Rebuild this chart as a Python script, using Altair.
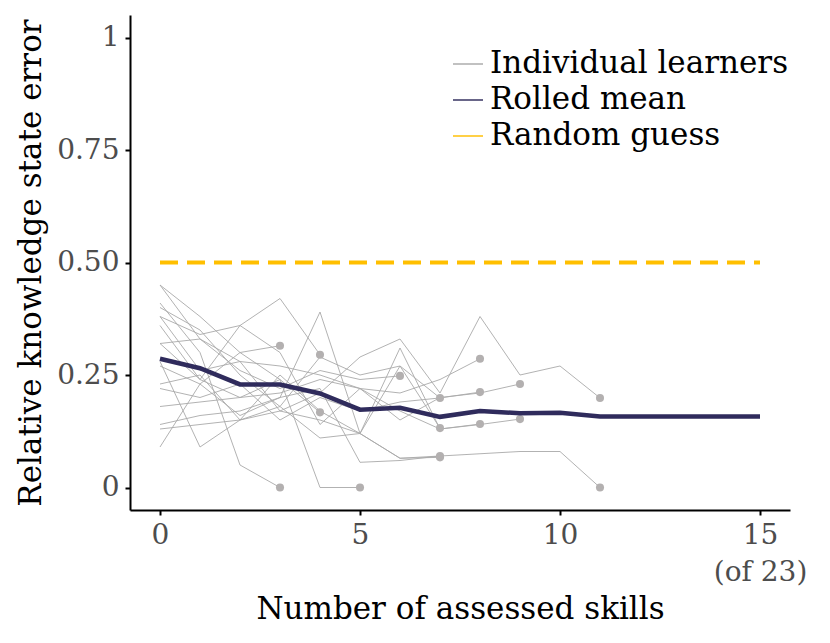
import altair as alt
import pandas as pd

# ---------------- data ----------------
learner_1 = [0.45, 0.38, 0.30, 0.315]
learner_2 = [0.41, 0.30, 0.05, 0.0]
learner_3 = [0.38, 0.34, 0.36, 0.42, 0.295]
learner_4 = [0.27, 0.23, 0.30, 0.24, 0.167]
learner_5 = [0.36, 0.24, 0.20, 0.24, 0.0, 0.0]
learner_6 = [0.32, 0.33, 0.26, 0.22, 0.26, 0.24, 0.248]
learner_7 = [0.45, 0.33, 0.28, 0.17, 0.21, 0.29, 0.33, 0.21, 0.38, 0.25, 0.27, 0.199]
learner_8 = [0.09, 0.23, 0.16, 0.20, 0.39, 0.12, 0.31, 0.13, 0.14, 0.152]
learner_9 = [0.18, 0.19, 0.20, 0.21, 0.24, 0.22, 0.15, 0.20, 0.21, 0.23]
learner_10 = [0.23, 0.25, 0.15, 0.17, 0.15, 0.12, 0.065, 0.067]
learner_11 = [0.13, 0.14, 0.15, 0.18, 0.11, 0.12, 0.065, 0.07]
learner_12 = [0.28, 0.09, 0.15, 0.25, 0.17, 0.12, 0.27, 0.132]
learner_13 = [0.40, 0.35, 0.25, 0.18, 0.29, 0.25, 0.27, 0.199]
learner_14 = [0.38, 0.26, 0.28, 0.27, 0.25, 0.22, 0.21, 0.24, 0.286]
learner_15 = [0.22, 0.20, 0.23, 0.15, 0.20, 0.17, 0.19, 0.199, 0.212]
learner_16 = [0.32, 0.24, 0.36, 0.30, 0.14, 0.22, 0.17, 0.13, 0.141]
learner_17 = [0.14, 0.16, 0.17, 0.20, 0.22, 0.056, 0.06, 0.07, 0.075, 0.08, 0.08, 0.0]

learners = [learner_1, learner_2, learner_3, learner_4, learner_5, learner_6,
            learner_7, learner_8, learner_9, learner_10, learner_11, learner_12,
            learner_13, learner_14, learner_15, learner_16, learner_17]

mean_skills = list(range(16))
rolled_mean = [0.286, 0.265, 0.229, 0.229, 0.209, 0.173, 0.177, 0.157, 0.17,
               0.165, 0.166, 0.158, 0.158, 0.158, 0.158, 0.158]

guess_skills = [0, 15]
guess_values = [0.5, 0.5]

series_names = ["Individual learners", "Rolled mean", "Random guess"]
series_colors = ["#aaaaaa", "#2f2b5c", "#ffbf00"]
x_ticks = [0, 5, 10, 15]
y_ticks = [0, 0.25, 0.5, 0.75, 1]

# ---------------- tables ----------------
rows = []
ends = []
for i, vals in enumerate(learners):
    for s, v in enumerate(vals):
        rows.append({"learner": i, "skills": s, "error": v, "series": series_names[0]})
    ends.append({"learner": i, "skills": len(vals) - 1, "error": vals[-1]})
learner_df = pd.DataFrame(rows)
end_df = pd.DataFrame(ends)
mean_df = pd.DataFrame({"skills": mean_skills, "error": rolled_mean, "series": series_names[1]})
guess_df = pd.DataFrame({"skills": guess_skills, "error": guess_values, "series": series_names[2]})

FONT = "DejaVu Serif"

x_scale = alt.Scale(domain=[-0.75, 15.75], nice=False, zero=False)
y_scale = alt.Scale(domain=[-0.05, 1.05], nice=False, zero=False)
color_scale = alt.Scale(domain=series_names, range=series_colors)

x_enc = alt.X("skills:Q", scale=x_scale,
              axis=alt.Axis(title="Number of assessed skills", values=x_ticks,
                            labelExpr="datum.value == 15 ? ['15', '(of 23)'] : datum.label"))
y_enc = alt.Y("error:Q", scale=y_scale,
              axis=alt.Axis(title="Relative knowledge state error", values=y_ticks,
                            labelExpr="datum.value == 0 ? '0' : (datum.value == 1 ? '1' : format(datum.value, '.2f'))"))

legend = alt.Legend(title=None, orient="none", legendX=322, legendY=33,
                    symbolType="stroke", symbolSize=900, symbolStrokeWidth=1.6,
                    labelFontSize=31, labelFont=FONT, labelColor="black",
                    labelOffset=6, rowPadding=5, labelLimit=400)

lines = alt.Chart(learner_df).mark_line(strokeWidth=1, opacity=0.9).encode(
    x=x_enc, y=y_enc, detail="learner:N",
    color=alt.Color("series:N", scale=color_scale, legend=legend),
)
dots = alt.Chart(end_df).mark_circle(size=65, opacity=1, color="#b3b0b0").encode(
    x="skills:Q", y="error:Q"
)
mean_line = alt.Chart(mean_df).mark_line(strokeWidth=4.5).encode(
    x="skills:Q", y="error:Q",
    color=alt.Color("series:N", scale=color_scale, legend=legend),
)
guess_line = alt.Chart(guess_df).mark_line(strokeWidth=4, strokeDash=[18, 9]).encode(
    x="skills:Q", y="error:Q",
    color=alt.Color("series:N", scale=color_scale, legend=legend),
)

chart = alt.layer(lines, dots, mean_line, guess_line).properties(
    width=660, height=495,
    autosize=alt.AutoSizeParams(type="none"),
    padding={"left": 122, "top": 7, "right": 20, "bottom": 120},
).configure_view(stroke=None).configure_axis(
    grid=False, domainColor="black", domainWidth=2, tickColor="black",
    tickWidth=2, tickSize=5, labelFont=FONT, labelFontSize=28, labelColor="#4d4d4d",
    labelPadding=6, titleFont=FONT, titleFontSize=31, titleColor="black",
    titleFontWeight="normal", labelLineHeight=37,
).configure_axisY(titlePadding=9).configure_axisX(titlePadding=8)

chart.save("out.html", embed_options={"renderer": "svg", "actions": False})
